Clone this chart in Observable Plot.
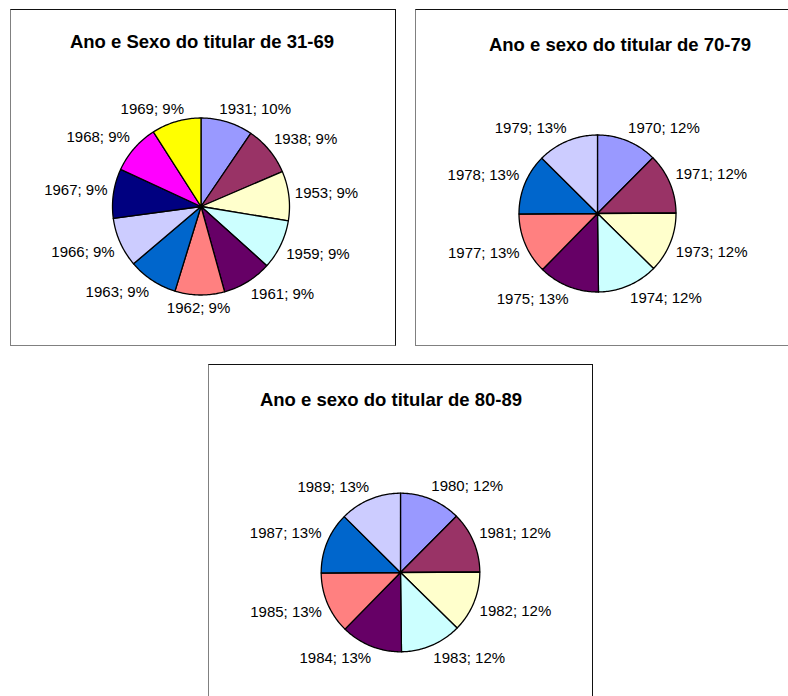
<!DOCTYPE html>
<html><head><meta charset="utf-8">
<script src="https://cdn.jsdelivr.net/npm/d3@7"></script>
<script src="https://cdn.jsdelivr.net/npm/@observablehq/plot@0.6"></script>
<style>
body{margin:0;background:#fff;width:788px;height:696px;overflow:hidden;position:relative;font-family:"Liberation Sans",Arial,sans-serif;}
.panel{position:absolute;box-sizing:border-box;border:1px solid #111;border-left-color:#808080;border-bottom-color:#808080;background:#fff}
.chart{position:absolute}
.title{position:absolute;font-weight:bold;font-size:18.5px;white-space:nowrap;transform:translateX(-50%);line-height:1;color:#000}
</style></head><body>
<script>
// ---- data ----
const palette = ["#9999FF","#993366","#FFFFCC","#CCFFFF","#660066","#FF8080","#0066CC","#CCCCFF","#000080","#FF00FF","#FFFF00"];
const titles = ["Ano e Sexo do titular de 31-69","Ano e sexo do titular de 70-79","Ano e sexo do titular de 80-89"];
const years1 = ["1931","1938","1953","1959","1961","1962","1963","1966","1967","1968","1969"];
const values1 = [9.5,9.05,9.05,9.05,9.05,9.05,9.05,9.05,9.05,9.05,9.05];
const years2 = ["1970","1971","1973","1974","1975","1977","1978","1979"];
const values2 = [12.45,12.45,12.45,12.45,12.55,12.55,12.55,12.55];
const years3 = ["1980","1981","1982","1983","1984","1985","1987","1989"];
const values3 = [12.45,12.45,12.45,12.45,12.55,12.55,12.55,12.55];

// ---- layout ----
const layouts = [
  {panel:[10,9,386,337], svg:[11,10,383,334], cx:200.5, cy:206, r:88.5, tx:202, tb:49},
  {panel:[415,9,400,337], svg:[416,10,372,334], cx:597, cy:213, r:78.5, tx:620, tb:51.5},
  {panel:[208,364,385,400], svg:[209,365,382,331], cx:400, cy:572, r:79.3, tx:391, tb:407}
];
const series = [[years1,values1],[years2,values2],[years3,values3]];

const LABEL_FONT = 15;
const canvas = document.createElement("canvas");
const ctx = canvas.getContext("2d");
ctx.font = `${LABEL_FONT}px "Liberation Sans", Arial`;
const clamp = v => Math.max(-1, Math.min(1, v));

series.forEach(([years, values], i) => {
  const L = layouts[i];
  const p = document.createElement("div");
  p.className = "panel";
  Object.assign(p.style, {left:L.panel[0]+"px", top:L.panel[1]+"px", width:L.panel[2]+"px", height:L.panel[3]+"px"});
  document.body.appendChild(p);

  const total = d3.sum(values);
  let acc = 0;
  const slices = years.map((y, j) => {
    const a0 = acc / total * 2 * Math.PI;
    acc += values[j];
    const a1 = acc / total * 2 * Math.PI;
    return {year: y, value: values[j], a0, a1, pct: Math.round(values[j] / total * 100)};
  });
  const pts = [];
  for (const s of slices) {
    pts.push({year: s.year, x: 0, y: 0});
    const n = Math.max(2, Math.ceil((s.a1 - s.a0) / (Math.PI / 180)));
    for (let k = 0; k <= n; k++) {
      const a = s.a0 + (s.a1 - s.a0) * k / n;
      pts.push({year: s.year, x: Math.sin(a), y: Math.cos(a)});
    }
  }
  const r = L.r, gap = 6, kk = 2.5, h = 14;
  const labels = slices.map(s => {
    const text = `${s.year}; ${s.pct}%`;
    const w = ctx.measureText(text).width;
    const m = (s.a0 + s.a1) / 2;
    const sx = Math.sin(m), cy = Math.cos(m);
    const R = (r + gap) / r;
    const x = sx * R + clamp(kk * sx) * w / 2 / r;
    const y = cy * R + clamp(kk * cy) * h / 2 / r;
    return {text, x, y};
  });

  const [sl, st, W, H] = L.svg;
  const cx = L.cx - sl, cyp = L.cy - st;
  const chart = Plot.plot({
    width: W, height: H, margin: 0,
    x: {domain: [-cx / r, (W - cx) / r], axis: null},
    y: {domain: [-(H - cyp) / r, cyp / r], axis: null},
    color: {domain: years, range: palette.slice(0, years.length)},
    style: {background: "transparent", overflow: "visible"},
    marks: [
      Plot.line(pts, {x: "x", y: "y", z: "year", fill: "year", stroke: "#000", strokeWidth: 1.3, curve: "linear-closed", strokeLinejoin: "round"}),
      Plot.text(labels, {x: "x", y: "y", text: "text", fill: "#000", fontSize: LABEL_FONT, fontFamily: "Liberation Sans, Arial, sans-serif", textAnchor: "middle", lineAnchor: "middle"})
    ]
  });
  chart.classList.add("chart");
  Object.assign(chart.style, {left: sl + "px", top: st + "px"});
  document.body.appendChild(chart);

  const t = document.createElement("div");
  t.className = "title";
  t.textContent = titles[i];
  Object.assign(t.style, {left: L.tx + "px", top: (L.tb - 0.8465 * 18.5) + "px"});
  document.body.appendChild(t);
});
</script>
</body></html>
